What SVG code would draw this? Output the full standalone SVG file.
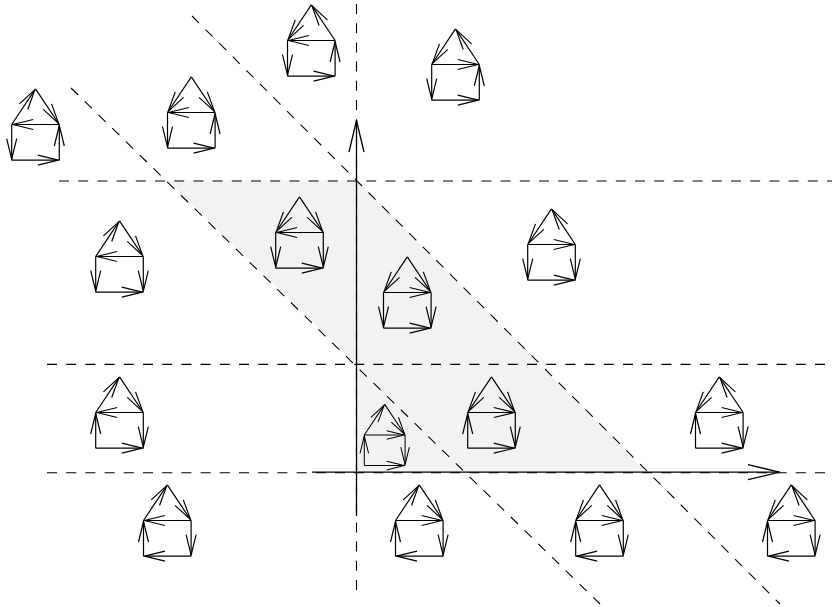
<svg xmlns="http://www.w3.org/2000/svg" width="832" height="607" viewBox="0 0 832 607">
<style>
marker{overflow:visible}
.e{fill:none;stroke:#000;stroke-width:1.2;marker-end:url(#h)}
.d{fill:none;stroke:#000;stroke-width:1.1;stroke-dasharray:10 9.2}
.a{fill:none;stroke:#000;stroke-width:1.3;marker-end:url(#big)}
</style>
<defs>
<marker id="h" markerUnits="userSpaceOnUse" markerWidth="60" markerHeight="60" refX="30" refY="30" orient="auto"><path d="M8.5,25L29,30L8.5,35" fill="none" stroke="#000" stroke-width="1.2"/></marker>
<marker id="big" markerUnits="userSpaceOnUse" markerWidth="80" markerHeight="80" refX="40" refY="40" orient="auto"><path d="M8,32.5L39.5,40L8,47.5" fill="none" stroke="#000" stroke-width="1.3"/></marker>
<line id="la" class="e" x1="0" y1="0" x2="23.8" y2="-35.7"/>
<line id="al" class="e" x1="23.8" y1="-35.7" x2="0" y2="0"/>
<line id="ar" class="e" x1="23.8" y1="-35.7" x2="47.6" y2="0"/>
<line id="ra" class="e" x1="47.6" y1="0" x2="23.8" y2="-35.7"/>
<line id="ml" class="e" x1="47.6" y1="0" x2="0" y2="0"/>
<line id="mr" class="e" x1="0" y1="0" x2="47.6" y2="0"/>
<line id="ld" class="e" x1="0" y1="0" x2="0" y2="35.7"/>
<line id="lu" class="e" x1="0" y1="35.7" x2="0" y2="0"/>
<line id="rd" class="e" x1="47.6" y1="0" x2="47.6" y2="35.7"/>
<line id="ru" class="e" x1="47.6" y1="35.7" x2="47.6" y2="0"/>
<line id="br" class="e" x1="0" y1="35.7" x2="47.6" y2="35.7"/>
<line id="bl" class="e" x1="47.6" y1="35.7" x2="0" y2="35.7"/>
</defs>
<polygon points="167,180.5 356,180.5 646,472 356,472 356,364" fill="#f2f2f2"/>
<g id="connectors">
<line class="d" x1="59" y1="181" x2="832" y2="181"/>
<line class="d" x1="47" y1="364.4" x2="832" y2="364.4"/>
<line class="d" x1="47" y1="472.8" x2="832" y2="472.8"/>
<line class="d" x1="356.5" y1="4" x2="356.5" y2="590"/>
<line class="d" x1="192" y1="16" x2="780" y2="604"/>
<line class="d" x1="71" y1="88" x2="600" y2="604"/>
<line class="a" x1="356.5" y1="516" x2="356.5" y2="120"/>
<line class="a" x1="312" y1="472.2" x2="780" y2="472.2"/>
</g>
<g id="n1" transform="translate(11.7,124.5)"><use href="#la"/><use href="#ar"/><use href="#ml"/><use href="#ld"/><use href="#ru"/><use href="#br"/></g>
<g id="n2" transform="translate(167.5,112.5)"><use href="#al"/><use href="#ar"/><use href="#ml"/><use href="#ld"/><use href="#ru"/><use href="#br"/></g>
<g id="n3" transform="translate(287.5,40.5)"><use href="#al"/><use href="#ra"/><use href="#ml"/><use href="#ld"/><use href="#ru"/><use href="#br"/></g>
<g id="n4" transform="translate(431.7,64.5)"><use href="#al"/><use href="#ra"/><use href="#mr"/><use href="#ld"/><use href="#ru"/><use href="#br"/></g>
<g id="n5" transform="translate(95.7,256.5)"><use href="#la"/><use href="#ar"/><use href="#ml"/><use href="#ld"/><use href="#rd"/><use href="#br"/></g>
<g id="n6" transform="translate(275.7,232.5)"><use href="#al"/><use href="#ar"/><use href="#ml"/><use href="#ld"/><use href="#rd"/><use href="#br"/></g>
<g id="n7" transform="translate(383.5,292.5)"><use href="#al"/><use href="#ar"/><use href="#mr"/><use href="#ld"/><use href="#rd"/><use href="#br"/></g>
<g id="n8" transform="translate(527.7,244.5)"><use href="#al"/><use href="#ra"/><use href="#mr"/><use href="#ld"/><use href="#rd"/><use href="#br"/></g>
<g id="n9" transform="translate(95.7,412.5)"><use href="#la"/><use href="#ar"/><use href="#ml"/><use href="#lu"/><use href="#rd"/><use href="#br"/></g>
<g id="n10" transform="translate(143.5,520.5)"><use href="#la"/><use href="#ar"/><use href="#ml"/><use href="#lu"/><use href="#rd"/><use href="#bl"/></g>
<g id="n11" transform="translate(364.3,435) scale(0.857)"><use href="#la"/><use href="#ar"/><use href="#mr"/><use href="#lu"/><use href="#rd"/><use href="#br"/></g>
<g id="n12" transform="translate(467.7,412.5)"><use href="#al"/><use href="#ar"/><use href="#mr"/><use href="#lu"/><use href="#rd"/><use href="#br"/></g>
<g id="n13" transform="translate(395.5,520.5)"><use href="#la"/><use href="#ar"/><use href="#mr"/><use href="#lu"/><use href="#rd"/><use href="#bl"/></g>
<g id="n14" transform="translate(695.5,412.5)"><use href="#al"/><use href="#ra"/><use href="#mr"/><use href="#lu"/><use href="#rd"/><use href="#br"/></g>
<g id="n15" transform="translate(575.7,520.5)"><use href="#al"/><use href="#ar"/><use href="#mr"/><use href="#lu"/><use href="#rd"/><use href="#bl"/></g>
<g id="n16" transform="translate(767.5,520.5)"><use href="#al"/><use href="#ra"/><use href="#mr"/><use href="#lu"/><use href="#rd"/><use href="#bl"/></g>
</svg>
